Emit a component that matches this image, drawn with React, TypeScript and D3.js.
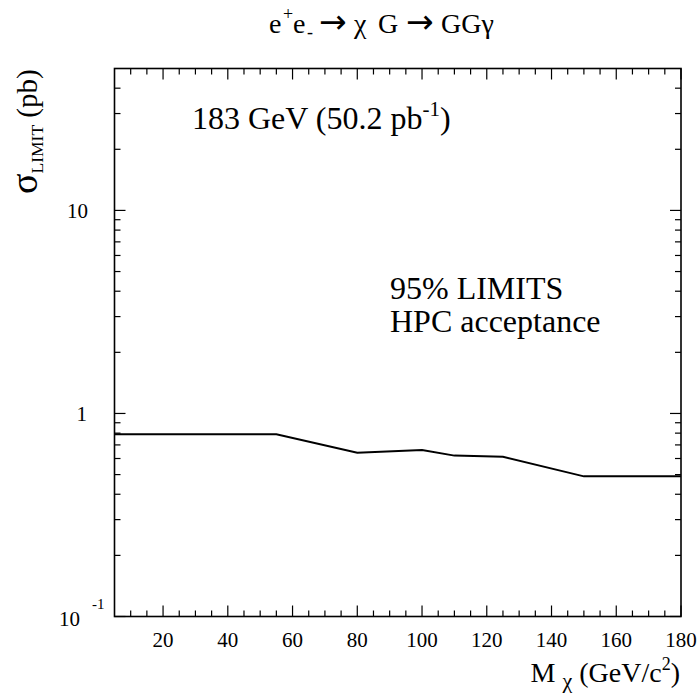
import React from "react";
import * as d3 from "d3";

const massPoints = [5, 55, 80, 100, 110, 125, 150, 180];
const sigmaLimits = [0.79, 0.79, 0.64, 0.66, 0.62, 0.612, 0.49, 0.49];
const xMajorTicks = [20, 40, 60, 80, 100, 120, 140, 160, 180];
const xMinorTicks = d3.range(10, 180, 5).filter((v) => v % 20 !== 0);
const yMajorTicks = [0.1, 1, 10];
const yMinorTicks = [2, 3, 4, 5, 6, 7, 8, 9].flatMap((m) => [m * 0.1, m, m * 10]).filter((v) => v < 50);

const W = 699;
const H = 696;
const left = 114.5;
const right = 681;
const top = 68.5;
const bottom = 616.5;
const FONT = '"Liberation Serif", "DejaVu Serif", "Times New Roman", serif';
const ARROW_FONT = '"DejaVu Sans", sans-serif';

export default function App() {
  const x = d3.scaleLinear().domain([5, 180]).range([left, right]);
  const y = d3.scaleLog().domain([0.1, 50]).range([bottom, top]);
  const line = d3
    .line<number>()
    .x((_, i) => x(massPoints[i]))
    .y((d) => y(d));
  const maj = 11;
  const min = 6;
  const f = { fontFamily: FONT };
  return (
    <svg width={W} height={H} style={{ position: "absolute", left: 0, top: 0, background: "#fff", fontFamily: FONT }}>
      <rect x={0} y={0} width={W} height={H} fill="#fff" />
      {/* title */}
      <text y={33} fontSize={28} style={f}>
        <tspan x={269}>e</tspan>
        <tspan x={283} y={20} fontSize={18}>+</tspan>
        <tspan x={293} y={33}>e</tspan>
        <tspan x={307} y={38} fontSize={18}>-</tspan>
        <tspan x={319} y={33} fontSize={33} style={{ fontFamily: ARROW_FONT }}>{"\u2192"}</tspan>
        <tspan x={354} y={33}>{"\u03c7"}</tspan>
        <tspan x={378}>G</tspan>
        <tspan x={406} fontSize={33} style={{ fontFamily: ARROW_FONT }}>{"\u2192"}</tspan>
        <tspan x={441}>{"GG\u03b3"}</tspan>
      </text>
      {/* frame */}
      <rect x={left} y={top} width={right - left} height={bottom - top} fill="none" stroke="#000" strokeWidth={1.6} />
      {/* x ticks */}
      {xMajorTicks.map((t) => (
        <g key={"xm" + t}>
          <line x1={x(t)} x2={x(t)} y1={bottom} y2={bottom - maj} stroke="#000" strokeWidth={1.2} />
          <line x1={x(t)} x2={x(t)} y1={top} y2={top + maj} stroke="#000" strokeWidth={1.2} />
          <text x={x(t)} y={647} fontSize={21} textAnchor="middle" style={f}>
            {t}
          </text>
        </g>
      ))}
      {xMinorTicks.map((t) => (
        <g key={"xn" + t}>
          <line x1={x(t)} x2={x(t)} y1={bottom} y2={bottom - min} stroke="#000" strokeWidth={1.2} />
          <line x1={x(t)} x2={x(t)} y1={top} y2={top + min} stroke="#000" strokeWidth={1.2} />
        </g>
      ))}
      {/* y ticks */}
      {yMajorTicks.map((t) => (
        <g key={"ym" + t}>
          <line x1={left} x2={left + maj} y1={y(t)} y2={y(t)} stroke="#000" strokeWidth={1.2} />
          <line x1={right} x2={right - maj} y1={y(t)} y2={y(t)} stroke="#000" strokeWidth={1.2} />
        </g>
      ))}
      {yMinorTicks.map((t) => (
        <g key={"yn" + t}>
          <line x1={left} x2={left + min} y1={y(t)} y2={y(t)} stroke="#000" strokeWidth={1.2} />
          <line x1={right} x2={right - min} y1={y(t)} y2={y(t)} stroke="#000" strokeWidth={1.2} />
        </g>
      ))}
      <text x={88} y={y(10) + 8} fontSize={21} textAnchor="end" style={f}>
        10
      </text>
      <text x={87} y={y(1) + 8} fontSize={21} textAnchor="end" style={f}>
        1
      </text>
      <text x={59} y={y(0.1) + 9} fontSize={21} style={f}>
        10
        <tspan x={92} dy={-17} fontSize={15}>
          -1
        </tspan>
      </text>
      {/* data line */}
      <path d={line(sigmaLimits) || ""} fill="none" stroke="#000" strokeWidth={2} />
      {/* annotations */}
      <text x={192} y={129} fontSize={32} style={f}>
        183 GeV (50.2 pb<tspan dy={-13} fontSize={21}>-1</tspan>
        <tspan dy={13}>)</tspan>
      </text>
      <text x={390} y={299} fontSize={32} style={f}>
        95% LIMITS
      </text>
      <text x={390} y={332} fontSize={32} style={f}>
        HPC acceptance
      </text>
      {/* y label */}
      <text transform={`translate(37,194) rotate(-90)`} fontSize={29} style={f}>
        <tspan fontSize={38}>σ</tspan>
        <tspan dy={6} fontSize={17.5}>LIMIT</tspan>
        <tspan dy={-6}> (pb)</tspan>
      </text>
      {/* x label */}
      <text x={680} y={682} fontSize={28} textAnchor="end" style={f}>
        M <tspan dy={6} fontSize={22}>χ</tspan>
        <tspan dy={-6}> (GeV/c</tspan>
        <tspan dy={-12} fontSize={18}>2</tspan>
        <tspan dy={12}>)</tspan>
      </text>
    </svg>
  );
}
